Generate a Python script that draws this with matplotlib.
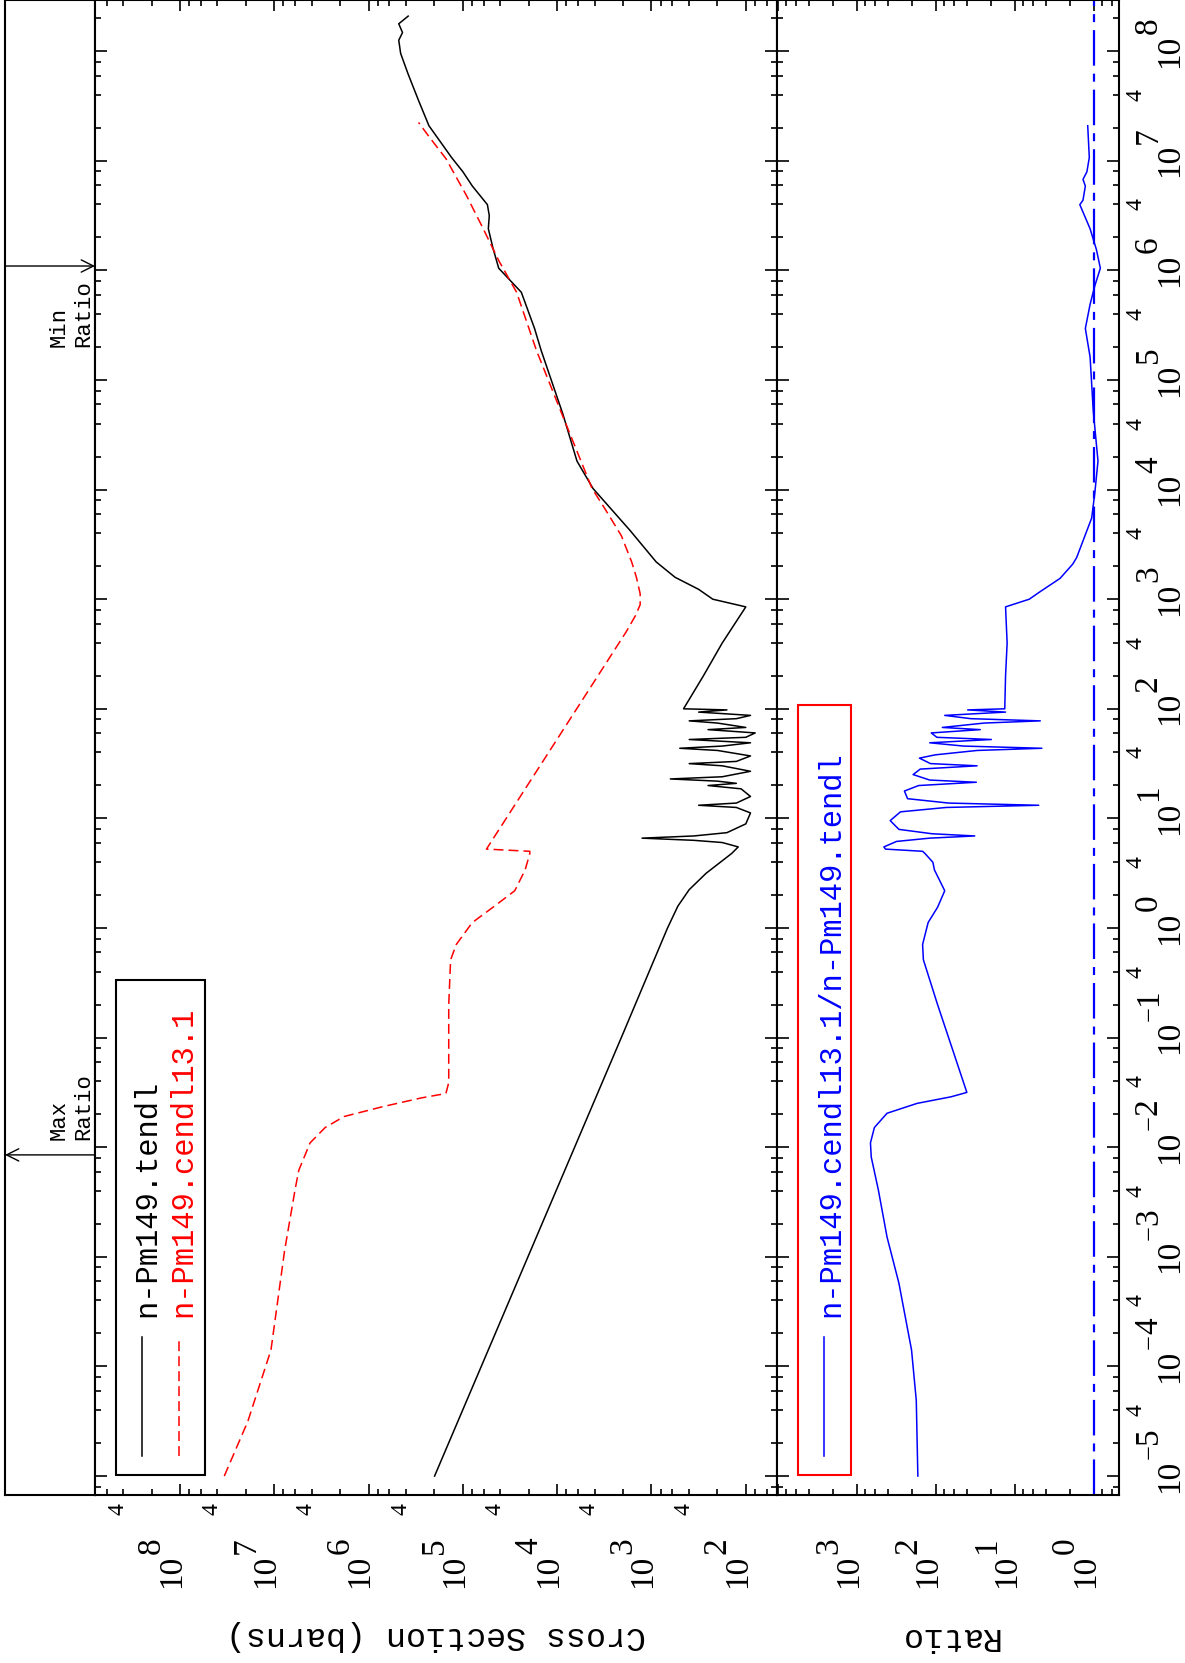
import matplotlib
matplotlib.use("Agg")
import matplotlib.pyplot as plt
import matplotlib.transforms as mtransforms
from matplotlib.patches import Rectangle
from matplotlib.lines import Line2D
from matplotlib.ticker import LogLocator, NullLocator
import numpy as np

# values, all as log10
# n-Pm149.tendl
black_loge = [-5.0, -1.0, 0.0, 0.2, 0.35, 0.5, 0.6, 0.68, 0.74, 0.78,
              0.80, 0.82, 0.84, 0.87, 0.95, 1.05, 1.10, 1.12, 1.14, 1.20,
              1.27, 1.30, 1.32, 1.34, 1.36, 1.38, 1.43, 1.48, 1.50, 1.52,
              1.57, 1.62, 1.64, 1.66, 1.69, 1.72, 1.74, 1.78, 1.81, 1.83,
              1.87, 1.89, 1.91, 1.94, 1.97, 1.99, 2.0, 2.3, 2.6, 2.93,
              3.0, 3.09, 3.2, 3.34, 3.63, 4.01, 4.26, 4.69, 5.27, 5.47,
              5.80, 6.02, 6.2, 6.38, 6.5, 6.6, 6.77, 6.9, 7.03, 7.32,
              7.55, 7.79, 7.98, 8.1, 8.17, 8.25, 8.32]
black_logxs = [5.30, 3.32, 2.83, 2.72, 2.6, 2.42, 2.27, 2.15, 2.08, 2.25,
               2.55, 3.1, 2.55, 2.2, 2.0, 1.95, 2.1, 2.5, 2.1, 1.95,
               2.05, 2.4, 2.1, 2.3, 2.8, 2.25, 1.95, 2.25, 2.6, 2.1,
               1.95, 2.3, 2.7, 2.25, 1.95, 2.6, 2.0, 1.9, 2.4, 2.0,
               2.3, 2.6, 2.1, 1.95, 2.5, 2.2, 2.66, 2.45, 2.25, 2.0,
               2.35, 2.5, 2.75, 2.95, 3.23, 3.62, 3.79, 3.94, 4.17, 4.24,
               4.38, 4.62, 4.68, 4.73, 4.72, 4.74, 4.90, 5.0, 5.12, 5.36,
               5.47, 5.58, 5.66, 5.68, 5.64, 5.68, 5.58]

# n-Pm149.cendl13.1
red_loge = [-5.0, -4.5, -3.85, -2.94, -2.39, -2.21, -1.96, -1.82, -1.72, -1.63,
            -1.55, -1.51, -1.41, -1.11, -0.7, -0.29, -0.15, 0.05, 0.19, 0.34,
            0.53, 0.68, 0.70, 0.72, 2.7, 2.85, 2.95, 3.05, 3.2, 3.34,
            3.58, 3.82, 4.01, 4.69, 5.27, 5.80, 6.09, 6.39, 6.68, 7.02,
            7.21, 7.35]
red_logxs = [7.53, 7.28, 7.035, 6.89, 6.78, 6.74, 6.62, 6.46, 6.26, 5.85,
             5.44, 5.18, 5.15, 5.15, 5.15, 5.13, 5.07, 4.90, 4.68, 4.45,
             4.34, 4.29, 4.29, 4.75, 3.27, 3.17, 3.12, 3.12, 3.16, 3.21,
             3.32, 3.49, 3.63, 3.95, 4.22, 4.43, 4.62, 4.79, 4.96, 5.18,
             5.35, 5.47]

# ratio cendl13.1 / tendl
ratio_loge = [-5.0, -4.31, -3.85, -3.24, -2.82, -2.39, -2.09, -1.96, -1.82, -1.69,
              -1.6, -1.54, -1.50, -1.11, -0.7, -0.29, -0.15, 0.05, 0.19, 0.34,
              0.53, 0.60, 0.68, 0.70, 0.72, 0.74, 0.79, 0.82, 0.84, 0.86,
              0.90, 0.98, 1.06, 1.10, 1.12, 1.14, 1.18, 1.25, 1.30, 1.33,
              1.35, 1.40, 1.45, 1.48, 1.50, 1.55, 1.58, 1.62, 1.64, 1.66,
              1.69, 1.72, 1.74, 1.78, 1.81, 1.83, 1.87, 1.89, 1.91, 1.94,
              1.97, 1.99, 2.0, 2.3, 2.6, 2.93, 3.0, 3.07, 3.19, 3.32,
              3.38, 3.74, 3.97, 4.26, 4.72, 5.21, 5.47, 5.69, 5.86, 6.02,
              6.19, 6.38, 6.60, 6.64, 6.77, 6.83, 6.90, 7.03, 7.32]
ratio_logr = [2.23, 2.25, 2.31, 2.47, 2.62, 2.73, 2.82, 2.83, 2.78, 2.62,
              2.24, 1.81, 1.61, 1.79, 1.98, 2.16, 2.17, 2.10, 1.98, 1.89,
              2.02, 2.04, 2.14, 2.17, 2.64, 2.66, 2.50, 2.08, 1.51, 2.05,
              2.47, 2.58, 2.45, 1.87, 0.70, 1.84, 2.36, 2.40, 2.22, 1.49,
              2.08, 2.29, 2.20, 1.48, 2.07, 2.21, 2.01, 1.48, 0.66, 1.65,
              2.08, 1.30, 1.99, 2.06, 1.44, 1.92, 1.39, 0.68, 1.56, 1.89,
              1.12, 1.60, 1.13, 1.12, 1.10, 1.12, 0.82, 0.68, 0.43, 0.27,
              0.22, 0.03, -0.01, -0.05, 0.01, 0.05, 0.11, 0.05, -0.01, -0.08,
              -0.03, 0.05, 0.18, 0.14, 0.11, 0.14, 0.09, 0.06, 0.08]

e_max_ratio = 10 ** -2.07
e_min_ratio = 10 ** 6.04

energy_decades = list(range(-5, 9))
xs_decades = list(range(2, 9))
ratio_decades = list(range(0, 4))

labels = ["n-Pm149.tendl", "n-Pm149.cendl13.1"]
ratio_label = "n-Pm149.cendl13.1/n-Pm149.tendl"

MONO = "Liberation Mono"
SERIF = "Liberation Serif"

W, H = 1185, 1663
fig = plt.figure(figsize=(W / 100, H / 100), dpi=100)


def px_axes(x0, x1, y0, y1):
    return fig.add_axes([x0 / W, 1 - y1 / H, (x1 - x0) / W, (y1 - y0) / H])


BOT = 1495
ax_s = px_axes(5, 95, 0, BOT)
ax_xs = px_axes(95, 777, 0, BOT)
ax_r = px_axes(777, 1119, 0, BOT)

e_lim = (10 ** -5.173, 10 ** 8.467)
for ax in (ax_s, ax_xs, ax_r):
    ax.set_yscale("log")
    ax.set_ylim(*e_lim)
    for sp in ax.spines.values():
        sp.set_linewidth(1.5)

ax_s.set_xlim(0, 1)
ax_s.xaxis.set_major_locator(NullLocator())
ax_s.yaxis.set_major_locator(NullLocator())
ax_s.yaxis.set_minor_locator(NullLocator())

ax_xs.set_xscale("log")
ax_xs.set_xlim(10 ** 8.901, 10 ** 1.669)
ax_r.set_xscale("log")
ax_r.set_xlim(10 ** 4.013, 10 ** -0.316)

for ax in (ax_xs, ax_r):
    for a in (ax.xaxis, ax.yaxis):
        a.set_major_locator(LogLocator(base=10, numticks=40))
        a.set_minor_locator(LogLocator(base=10, subs=(2, 4, 6, 8), numticks=40))
    ax.tick_params(which="both", direction="in", left=True, right=True, top=True,
                   bottom=True, labelleft=False, labelbottom=False, width=1.2)
    ax.tick_params(axis="y", which="major", length=8.6)
    ax.tick_params(axis="y", which="minor", length=4)
    ax.tick_params(axis="x", which="major", length=8)
    ax.tick_params(axis="x", which="minor", length=4.5)

# curves
ax_xs.plot(10 ** np.array(black_logxs), 10 ** np.array(black_loge), color="black", lw=1.1)
ax_xs.plot(10 ** np.array(red_logxs), 10 ** np.array(red_loge), color="red", lw=1.1,
           ls=(0, (6.5, 3.3)))
ax_r.plot(10 ** np.array(ratio_logr), 10 ** np.array(ratio_loge), color="blue", lw=1.1)
ax_r.axvline(1.0, color="blue", lw=1.6, ls=(0, (16, 3.6, 3.6, 3.6)))


# tick labels, drawn by hand (rotated page, exponent same size as mantissa)
def rlabel(ax, trans, x, y, s, dx=0, dy=0, size=24, ha="left"):
    t = mtransforms.offset_copy(trans, fig=fig, x=dx, y=dy, units="dots")
    ax.text(x, y, s, transform=t, rotation=90, rotation_mode="anchor", ha=ha,
            va="baseline", fontsize=size, family=SERIF, clip_on=False)


fxr = lambda px: (px - 777) / 342
fxx = lambda px: (px - 95) / 682
fxs = lambda px: (px - 5) / 90
fy = lambda py: (BOT - py) / BOT

tr_e = mtransforms.blended_transform_factory(ax_r.transAxes, ax_r.transData)
for n in energy_decades:
    rlabel(ax_r, tr_e, fxr(1178), 10.0 ** n, "10", ha="center")
    if n < 0:
        rlabel(ax_r, tr_e, fxr(1157), 10.0 ** n, "\u2212", dy=17, size=19)
        rlabel(ax_r, tr_e, fxr(1157), 10.0 ** n, str(-n), dy=32)
    else:
        rlabel(ax_r, tr_e, fxr(1157), 10.0 ** n, str(n), dy=17)
for n in energy_decades[:-1]:
    rlabel(ax_r, tr_e, fxr(1142), 4 * 10.0 ** n, "4", size=17, ha="center")

tr_x = mtransforms.blended_transform_factory(ax_xs.transData, ax_xs.transAxes)
for n in xs_decades:
    rlabel(ax_xs, tr_x, 10.0 ** n, fy(1588), "10")
    rlabel(ax_xs, tr_x, 10.0 ** n, fy(1588), str(n), dx=-20, dy=34)
    rlabel(ax_xs, tr_x, 4 * 10.0 ** n, fy(1509), "4", size=17, ha="center")

tr_r = mtransforms.blended_transform_factory(ax_r.transData, ax_r.transAxes)
for n in ratio_decades:
    rlabel(ax_r, tr_r, 10.0 ** n, fy(1588), "10")
    rlabel(ax_r, tr_r, 10.0 ** n, fy(1588), str(n), dx=-20, dy=34)

ax_xs.text(0.5, fy(1635), "Cross Section (barns)", transform=ax_xs.transAxes,
           rotation=180, ha="center", va="center", fontsize=24, family=MONO)
ax_r.text(0.5, fy(1637), "Ratio", transform=ax_r.transAxes,
          rotation=180, ha="center", va="center", fontsize=24, family=MONO)

# legends
ax_xs.add_patch(Rectangle((fxx(116), fy(1475)), fxx(205) - fxx(116), fy(980) - fy(1475),
                          transform=ax_xs.transAxes, fill=False, ec="black", lw=1.5,
                          clip_on=False))
ax_xs.add_line(Line2D([fxx(141.6)] * 2, [fy(1456), fy(1337)], transform=ax_xs.transAxes,
                      color="black", lw=1.1))
ax_xs.add_line(Line2D([fxx(178.7)] * 2, [fy(1456), fy(1337)], transform=ax_xs.transAxes,
                      color="red", lw=1.1, ls=(0, (6.5, 3.3))))
ax_xs.text(fxx(155), fy(1317), labels[0], transform=ax_xs.transAxes, rotation=90,
           rotation_mode="anchor", ha="left", va="baseline", fontsize=22,
           family=MONO, color="black")
ax_xs.text(fxx(191), fy(1317), labels[1], transform=ax_xs.transAxes, rotation=90,
           rotation_mode="anchor", ha="left", va="baseline", fontsize=22,
           family=MONO, color="red")

ax_r.add_patch(Rectangle((fxr(798), fy(1475)), fxr(851) - fxr(798), fy(705) - fy(1475),
                         transform=ax_r.transAxes, fill=False, ec="red", lw=1.5,
                         clip_on=False))
ax_r.add_line(Line2D([fxr(824)] * 2, [fy(1456), fy(1337)], transform=ax_r.transAxes,
                     color="blue", lw=1.1))
ax_r.text(fxr(839), fy(1317), ratio_label, transform=ax_r.transAxes, rotation=90,
          rotation_mode="anchor", ha="left", va="baseline", fontsize=22,
          family=MONO, color="blue")

# max / min ratio markers
tr_s = mtransforms.blended_transform_factory(ax_s.transAxes, ax_s.transData)
ax_s.annotate("", xy=(0.0, e_max_ratio), xytext=(1.0, e_max_ratio),
              arrowprops=dict(arrowstyle="->", color="black", lw=1.0,
                              mutation_scale=22, shrinkA=0, shrinkB=0))
ax_s.annotate("", xy=(1.0, e_min_ratio), xytext=(0.0, e_min_ratio),
              arrowprops=dict(arrowstyle="->", color="black", lw=1.0,
                              mutation_scale=22, shrinkA=0, shrinkB=0))
ax_s.text(fxs(86), e_max_ratio, "Max\nRatio",
          transform=mtransforms.offset_copy(tr_s, fig=fig, y=15, units="dots"),
          rotation=90, rotation_mode="anchor", ha="left", va="baseline",
          multialignment="left", fontsize=16, family=MONO)
ax_s.text(fxs(86), e_min_ratio, "Min\nRatio",
          transform=mtransforms.offset_copy(tr_s, fig=fig, y=-14, units="dots"),
          rotation=90, rotation_mode="anchor", ha="right", va="baseline",
          multialignment="left", fontsize=16, family=MONO)

fig.savefig("out.png", dpi=100)
